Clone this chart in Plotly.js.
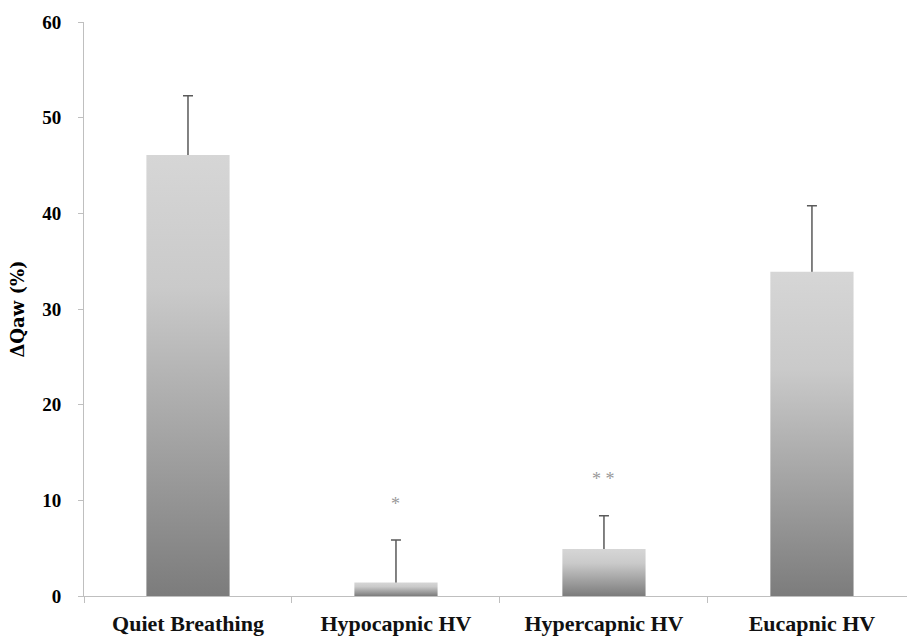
<!DOCTYPE html>
<html>
<head>
<meta charset="utf-8">
<script src="https://cdn.plot.ly/plotly-3.0.1.min.js"></script>
<style>html,body{margin:0;padding:0;background:#fff;}#chart{width:907px;height:636px;}</style>
</head>
<body>
<div id="chart"></div>
<script>
var categories = ['Quiet Breathing', 'Hypocapnic HV', 'Hypercapnic HV', 'Eucapnic HV'];
var meanValues = [46.1, 1.4, 4.9, 33.9];
var errorValues = [6.2, 4.45, 3.5, 6.9];
var sigLabels = ['', '*', '* *', ''];
var yTickValues = [0, 10, 20, 30, 40, 50, 60];

var serif = '"Liberation Serif", "DejaVu Serif", serif';

// error bars drawn first (transparent bars), so the real bars hide the lower cap
var errTrace = {
  type: 'bar',
  x: categories,
  y: meanValues,
  width: 0.4,
  marker: {color: 'rgba(0,0,0,0)', line: {width: 0}},
  error_y: {
    type: 'data',
    symmetric: false,
    array: errorValues,
    arrayminus: meanValues.map(function(v){return Math.min(0.6, v / 2);}),
    color: '#5a5a5a',
    thickness: 1.5,
    width: 5
  },
  hoverinfo: 'none'
};

var barTrace = {
  type: 'bar',
  x: categories,
  y: meanValues,
  width: 0.4,
  marker: {color: '#b0b0b0', line: {width: 0}},
  hoverinfo: 'none'
};

var annotations = [];
categories.forEach(function(c, i){
  if (sigLabels[i]) {
    annotations.push({
      x: c, y: meanValues[i] + errorValues[i] + 3.8,
      xref: 'x', yref: 'y',
      text: sigLabels[i], showarrow: false,
      font: {family: serif, size: 18, color: '#999999'},
      yanchor: 'middle'
    });
  }
});

var layout = {
  width: 907, height: 636,
  margin: {l: 84, r: 0, t: 22, b: 40},
  paper_bgcolor: '#ffffff', plot_bgcolor: '#ffffff',
  showlegend: false,
  barmode: 'overlay',
  xaxis: {
    type: 'category',
    range: [-0.5, 3.457],
    showline: true, linecolor: '#bfbfbf', linewidth: 1,
    ticks: 'outside', tickson: 'boundaries', ticklen: 6, tickcolor: '#bfbfbf',
    ticklabelstandoff: 8,
    showgrid: false, zeroline: false,
    tickfont: {family: serif, size: 22, color: '#111', weight: 'bold'}
  },
  yaxis: {
    range: [0, 60],
    tickvals: yTickValues,
    showline: true, linecolor: '#bfbfbf', linewidth: 1,
    ticks: 'outside', ticklen: 5, tickcolor: '#bfbfbf',
    ticklabelstandoff: 13,
    showgrid: false, zeroline: false,
    tickfont: {family: serif, size: 19, color: '#000', weight: 'bold'},
    title: {text: 'ΔQaw (%)', font: {family: '"DejaVu Serif", serif', size: 18, color: '#000', weight: 'bold'}, standoff: 12}
  },
  annotations: annotations
};

function applyGradient(){
  var svg = document.querySelector('#chart svg.main-svg');
  if (!svg) return;
  if (!document.getElementById('barGrad')) {
    var ns = 'http://www.w3.org/2000/svg';
    var defs = document.createElementNS(ns, 'defs');
    var lg = document.createElementNS(ns, 'linearGradient');
    lg.setAttribute('id', 'barGrad');
    lg.setAttribute('x1', '0'); lg.setAttribute('y1', '0');
    lg.setAttribute('x2', '0'); lg.setAttribute('y2', '1');
    [['0', '#d6d6d6'], ['0.3', '#cacaca'], ['1', '#7c7c7c']].forEach(function(s){
      var st = document.createElementNS(ns, 'stop');
      st.setAttribute('offset', s[0]);
      st.setAttribute('stop-color', s[1]);
      lg.appendChild(st);
    });
    defs.appendChild(lg);
    svg.insertBefore(defs, svg.firstChild);
  }
  var traces = document.querySelectorAll('#chart .barlayer .trace');
  if (traces.length > 1) {
    traces[1].querySelectorAll('.point path').forEach(function(p){
      p.style.fill = 'url(#barGrad)';
    });
  }
}

Plotly.newPlot('chart', [errTrace, barTrace], layout, {displayModeBar: false, staticPlot: true}).then(function(gd){
  applyGradient();
  gd.on('plotly_afterplot', applyGradient);
});
</script>
</body>
</html>
